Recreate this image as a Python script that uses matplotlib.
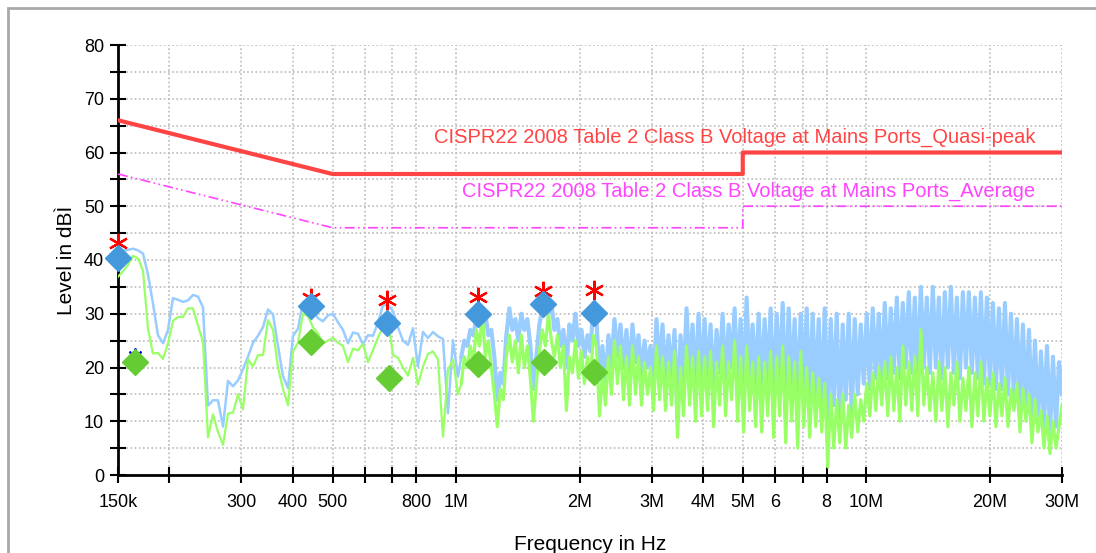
"""
EMV Messung Netzanschluss: Peak / Average Scan mit CISPR22 Grenzwerten
"""
import numpy as np
import matplotlib.pyplot as plt
from matplotlib.patches import Rectangle

# unterer Frequenzbereich 150k - 1M (Stuetzstellen log-gleichverteilt)
low_start, low_stop, low_n = 150e3, 1.011e6, 69
# oberer Frequenzbereich 1M - 30M
high_start, high_stop, high_n = 1.03e6, 30e6, 201

peak_low = [41.9, 41.7, 41.9, 42.1, 41.8, 41.2, 37.3, 31.9, 26.0, 24.5,
            27.0, 32.9, 32.6, 32.2, 32.5, 33.5, 33.2, 31.2, 12.9, 13.9,
            13.9, 9.0, 17.5, 16.5, 17.6, 19.7, 22.0, 24.6, 25.9, 27.5,
            30.8, 29.9, 24.0, 18.4, 16.2, 25.9, 27.2, 32.2, 32.0, 30.5,
            29.2, 28.6, 29.7, 30.0, 28.4, 27.0, 24.5, 26.5, 26.3, 24.3,
            26.0, 25.9, 28.3, 31.6, 31.6, 30.5, 27.5, 25.0, 24.2, 27.3,
            20.2, 26.6, 25.5, 26.6, 25.8, 25.3, 11.5, 25.1, 18.3]

avg_low = [36.9, 37.9, 39.1, 40.8, 40.3, 38.0, 27.2, 22.6, 22.7, 21.6,
           24.5, 28.7, 29.4, 29.4, 31.0, 31.0, 27.8, 24.8, 7.0, 11.3,
           8.0, 5.6, 11.4, 11.6, 15.0, 12.2, 21.5, 20.2, 22.3, 22.3,
           28.8, 27.0, 20.0, 16.0, 13.0, 23.0, 24.6, 30.0, 29.5, 27.5,
           26.3, 24.5, 25.0, 25.5, 24.6, 24.0, 21.0, 23.5, 23.2, 24.4,
           21.0, 23.2, 25.6, 27.5, 29.0, 22.3, 21.8, 20.0, 18.5, 21.8,
           16.8, 20.2, 22.5, 23.0, 21.5, 7.1, 19.5, 21.5, 15.0]

peak_high = [22, 25, 24, 27, 26, 29, 31, 28, 30, 26, 27, 22, 14, 19, 17, 26, 31, 27, 29, 25,
             30, 27, 29, 24, 16, 22, 28, 31, 33, 30, 32, 27, 29, 24, 27, 20, 28, 25, 30, 24,
             27, 22, 26, 23, 32, 29, 18, 24, 16, 26, 20, 29, 22, 28, 20, 27, 19, 28, 21, 26,
             18, 25, 20, 24, 17, 29, 19, 28, 17, 26, 18, 27, 10, 26, 17, 31, 18, 28, 16, 30,
             17, 29, 18, 28, 15, 27, 19, 30, 16, 28, 20, 31, 17, 29, 14, 33, 18, 28, 16, 30,
             15, 29, 17, 31, 13, 30, 17, 32, 12, 31, 16, 29, 13, 30, 16, 31, 13, 30, 14, 29,
             12, 31, 9, 29, 13, 30, 10, 28, 14, 30, 11, 29, 15, 28, 17, 30, 16, 31, 18, 30,
             17, 32, 18, 31, 19, 33, 18, 32, 20, 34, 19, 33, 18, 35, 20, 33, 19, 35, 20, 33,
             18, 34, 20, 35, 19, 33, 18, 34, 20, 34, 19, 33, 18, 34, 17, 33, 17, 32, 16, 31,
             16, 32, 15, 30, 14, 29, 13, 28, 12, 27, 11, 25, 10, 23, 9, 24, 8, 22, 9, 21,
             15]

avg_high = [17, 22, 20, 24, 21, 27, 24, 30, 22, 25, 20, 15, 9, 16, 14, 22, 26, 21, 25, 19,
            26, 20, 24, 18, 10, 17, 23, 27, 24, 30, 25, 22, 26, 20, 24, 12, 22, 19, 25, 18,
            23, 17, 22, 18, 26, 24, 11, 19, 13, 22, 15, 25, 17, 24, 14, 22, 13, 24, 15, 22,
            13, 21, 15, 20, 12, 24, 14, 22, 12, 21, 13, 23, 7, 20, 11, 24, 13, 22, 10, 23,
            11, 22, 12, 23, 9, 21, 13, 24, 11, 21, 14, 25, 10, 22, 8, 24, 12, 21, 9, 22,
            8, 21, 11, 23, 7, 22, 11, 24, 6, 22, 10, 21, 5, 23, 9, 20, 7, 19, 9, 18,
            8, 17, 1.5, 15, 5, 14, 6, 15, 5, 13, 7, 15, 8, 14, 10, 17, 11, 19, 12, 20,
            13, 21, 11, 22, 12, 20, 10, 24, 13, 21, 12, 22, 11, 27, 13, 20, 12, 19, 10, 21,
            12, 20, 9, 19, 13, 21, 10, 18, 12, 20, 9, 19, 11, 21, 10, 18, 11, 19, 9, 17,
            11, 18, 9, 16, 12, 17, 8, 16, 10, 15, 6, 14, 8, 12, 5, 11, 4, 10, 5, 9,
            13]

# Grenzwerte CISPR22 Klasse B
limit_freq = [150e3, 500e3, 5e6, 5e6, 30e6]
limit_qp = [66, 56, 56, 60, 60]
limit_av = [56, 46, 46, 50, 50]

# Nachmessung (final measurement) an den Peaks
final_freq = [150e3, 443e3, 679e3, 1.131e6, 1.63e6, 2.17e6]
final_qp_star = [43.2, 32.9, 32.6, 33.2, 34.2, 34.4]
final_peak = [40.4, 31.5, 28.2, 30.0, 31.9, 30.1]
final_avg_freq = [165e3, 443e3, 685e3, 1.131e6, 1.635e6, 2.17e6]
final_avg = [21.0, 24.8, 18.0, 20.7, 21.1, 19.2]
extra_freq = [165e3]
extra_level = [22.3]

f_low = np.geomspace(low_start, low_stop, low_n)
f_high = np.geomspace(high_start, high_stop, high_n)

narrow = ['Liberation Sans', 'DejaVu Sans']

fig = plt.figure(figsize=(10.96, 5.53), dpi=100)
fig.patches.append(Rectangle((8 / 1096, -0.1), 1.2, 1.1 - 8 / 553, transform=fig.transFigure,
                             fill=False, edgecolor='#a8a8a8', linewidth=2))
ax = fig.add_axes([118 / 1096, 1 - 475 / 553, 944 / 1096, 430 / 553])

# peak (blau) und average (gruen), oberer bereich dicker damit es "voll" aussieht
ax.plot(np.append(f_low, f_high[0]), peak_low + [peak_high[0]], color='#99ccff', linewidth=1.8, zorder=2)
ax.plot(f_high, peak_high, color='#99ccff', linewidth=3.0, zorder=2)
ax.plot(np.append(f_low, f_high[0]), avg_low + [avg_high[0]], color='#99ff66', linewidth=1.6, zorder=3)
ax.plot(f_high, avg_high, color='#99ff66', linewidth=2.3, zorder=3)

ax.plot(limit_freq, limit_qp, color='#ff4444', linewidth=3, zorder=4)
ax.plot(limit_freq, limit_av, color='#ff44ff', linewidth=1.2, linestyle=(0, (6, 2, 1, 2, 1, 2)), zorder=4)

ax.plot(final_freq, final_qp_star, linestyle='none', marker=(6, 2, 0), markersize=14,
        markeredgecolor='#ff0000', markeredgewidth=1.6, zorder=5, clip_on=False)
ax.plot(extra_freq, extra_level, linestyle='none', marker=(6, 2, 0), markersize=10,
        markeredgecolor='#0000ff', markeredgewidth=1.4, zorder=5, clip_on=False)
ax.plot(final_freq, final_peak, linestyle='none', marker='D', markersize=13,
        color='#4499dd', zorder=6, clip_on=False)
ax.plot(final_avg_freq, final_avg, linestyle='none', marker='D', markersize=13,
        color='#66cc33', zorder=6, clip_on=False)

ax.text(25.8e6, 62.9, 'CISPR22 2008 Table 2 Class B Voltage at Mains Ports_Quasi-peak',
        color='#ff4444', fontsize=14.5, ha='right', va='center', family=narrow)
ax.text(25.8e6, 52.7, 'CISPR22 2008 Table 2 Class B Voltage at Mains Ports_Average',
        color='#ff44ff', fontsize=14.5, ha='right', va='center', family=narrow)

ax.set_xscale('log')
ax.set_xlim(150e3, 30e6)
ax.set_ylim(0, 80)

xticks = [150e3, 200e3, 300e3, 400e3, 500e3, 600e3, 700e3, 800e3, 1e6,
          2e6, 3e6, 4e6, 5e6, 6e6, 7e6, 8e6, 10e6, 20e6, 30e6]
xlabels = ['150k', '', '300', '400', '500', '', '', '800', '1M',
           '2M', '3M', '4M', '5M', '6', '', '8', '10M', '20M', '30M']
ax.set_xticks(xticks)
ax.set_xticklabels(xlabels)
ax.xaxis.set_minor_locator(plt.NullLocator())
ax.set_yticks(range(0, 81, 10))
ax.set_yticks(range(5, 80, 10), minor=True)

for lbl in ax.get_xticklabels() + ax.get_yticklabels():
    lbl.set_family(narrow)
    lbl.set_fontsize(13)

ax.tick_params(axis='both', which='both', direction='inout', length=12, width=1.5, colors='black')
ax.tick_params(axis='x', pad=8)
ax.tick_params(axis='y', pad=4)

ax.grid(True, which='both', color='#bbbbbb', linestyle=(0, (1, 1.5)), linewidth=1.2)
ax.set_axisbelow(True)

for side in ['top', 'right']:
    ax.spines[side].set_visible(False)
for side in ['left', 'bottom']:
    ax.spines[side].set_linewidth(2)

ax.set_xlabel('Frequency in Hz', fontsize=15, family=narrow, labelpad=17)
ax.set_ylabel('Level in dBÌ', fontsize=15, family=narrow, labelpad=6)

fig.savefig('out.png', dpi=100)
